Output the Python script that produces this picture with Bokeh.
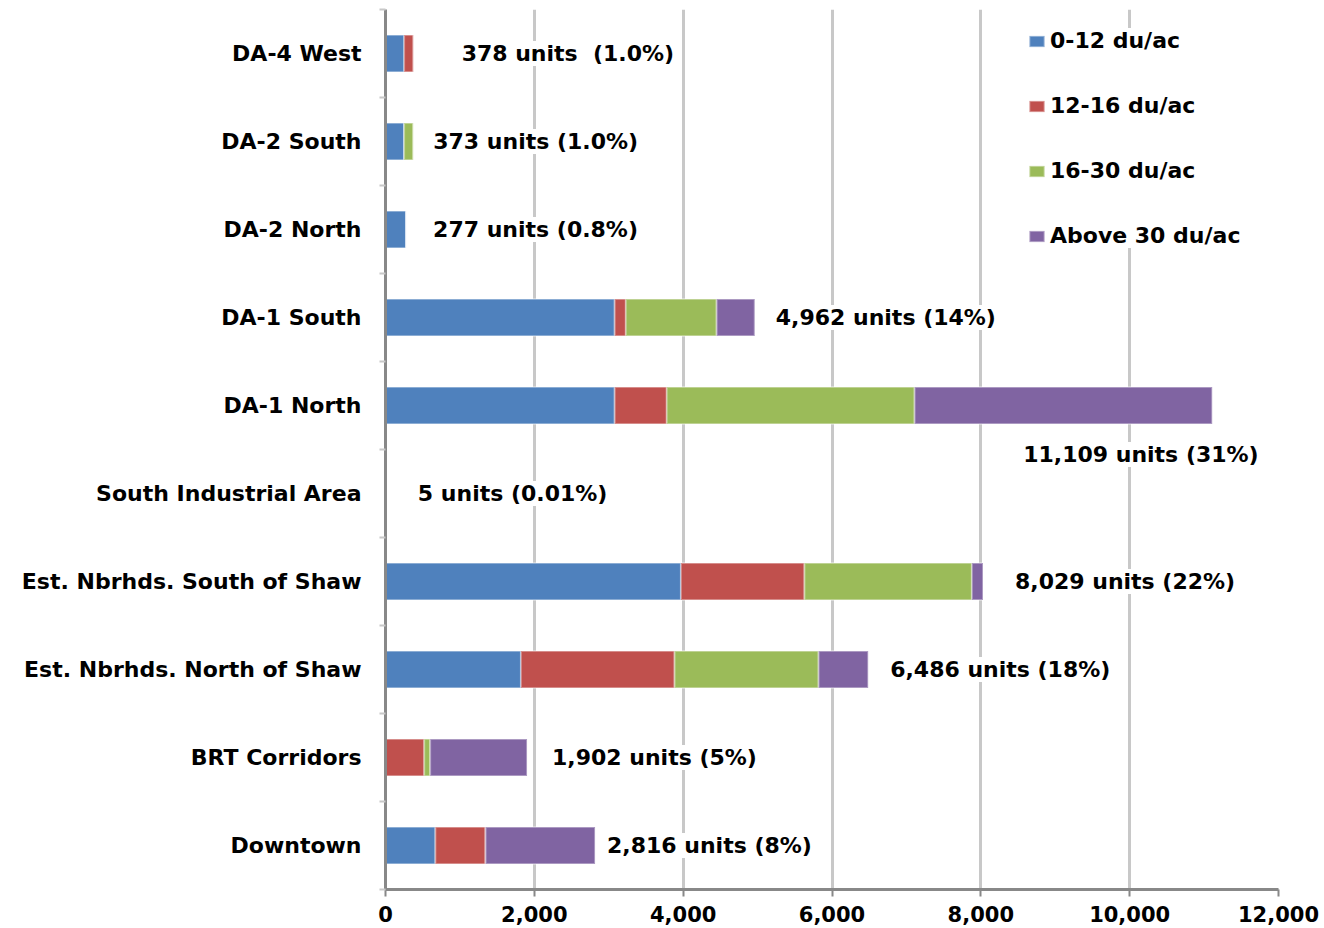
from bokeh.plotting import figure
from bokeh.models import (ColumnDataSource, FixedTicker, LabelSet, Range1d,
                          NumeralTickFormatter, Legend)
from bokeh.core.properties import value
from bokeh.embed import file_html
from bokeh.resources import INLINE

# ---- data (top to bottom as in the chart) ----
categories = ["DA-4 West", "DA-2 South", "DA-2 North", "DA-1 South", "DA-1 North",
              "South Industrial Area", "Est. Nbrhds. South of Shaw",
              "Est. Nbrhds. North of Shaw", "BRT Corridors", "Downtown"]
du_0_12 = [250, 250, 277, 3080, 3080, 5, 3970, 1820, 0, 670]
du_12_16 = [128, 0, 0, 150, 700, 0, 1660, 2065, 520, 675]
du_16_30 = [0, 123, 0, 1220, 3330, 0, 2250, 1935, 80, 0]
du_30_up = [0, 0, 0, 512, 3999, 0, 149, 666, 1302, 1471]
totals = [378, 373, 277, 4962, 11109, 5, 8029, 6486, 1902, 2816]
labels = ["378 units\u00a0 (1.0%)", "373 units (1.0%)", "277 units (0.8%)",
          "4,962 units (14%)", "11,109 units (31%)", "5 units (0.01%)",
          "8,029 units (22%)", "6,486 units (18%)", "1,902 units (5%)",
          "2,816 units (8%)"]
series_names = ["0-12 du/ac", "12-16 du/ac", "16-30 du/ac", "Above 30 du/ac"]
x_ticks = [0, 2000, 4000, 6000, 8000, 10000, 12000]

colors = ["#4F81BD", "#C0504D", "#9BBB59", "#8064A2"]
# label placement styling (pixel offsets from bar end)
lab_dx = [48, 20, 27, 21, -189, 32, 32, 22, 25, 12]
lab_dy = [0, 0, 0, 0, -49, 0, 0, 0, 0, 0]

n = len(categories)
ypos = [n - 1 - i for i in range(n)]

src = ColumnDataSource(dict(y=ypos, a=du_0_12, b=du_12_16, c=du_16_30, d=du_30_up,
                            total=totals, label=labels, dx=lab_dx, dy=lab_dy))

FONT = "DejaVu Sans"
FS = "22px"

p = figure(width=1320, height=928, output_backend="svg", toolbar_location=None,
           x_range=Range1d(0, 12000), y_range=Range1d(-0.5, n - 0.5),
           min_border_left=385, min_border_right=42, min_border_top=9,
           min_border_bottom=39)
p.outline_line_color = None
p.background_fill_color = "white"

renderers = p.hbar_stack(["a", "b", "c", "d"], y="y", height=0.42, color=colors,
                         line_color="white", line_alpha=0.35, line_width=2,
                         source=src)

# grid
p.ygrid.grid_line_color = None
p.xgrid.ticker = FixedTicker(ticks=x_ticks)
p.xgrid.grid_line_color = "#c8c8c8"
p.xgrid.grid_line_width = 3

# x axis
p.xaxis.ticker = FixedTicker(ticks=x_ticks)
p.xaxis.formatter = NumeralTickFormatter(format="0,0")
p.xaxis.axis_line_color = "#888888"
p.xaxis.axis_line_width = 3
p.xaxis.major_tick_line_color = "#888888"
p.xaxis.major_tick_line_width = 2
p.xaxis.major_tick_out = 7
p.xaxis.major_tick_in = 0
p.xaxis.minor_tick_line_color = None
p.xaxis.major_label_text_font = FONT
p.xaxis.major_label_text_font_style = "bold"
p.xaxis.major_label_text_font_size = "21px"
p.xaxis.major_label_text_color = "black"
p.xaxis.major_label_standoff = 9

# y axis
p.yaxis.ticker = FixedTicker(ticks=ypos, minor_ticks=[k - 0.5 for k in range(n + 1)])
p.yaxis.major_label_overrides = {ypos[i]: categories[i] for i in range(n)}
p.yaxis.axis_line_color = "#888888"
p.yaxis.axis_line_width = 3
p.yaxis.major_tick_line_color = None
p.yaxis.minor_tick_line_color = "#c8c8c8"
p.yaxis.minor_tick_line_width = 2
p.yaxis.minor_tick_out = 6
p.yaxis.minor_tick_in = 0
p.yaxis.major_label_text_font = FONT
p.yaxis.major_label_text_font_style = "bold"
p.yaxis.major_label_text_font_size = FS
p.yaxis.major_label_text_color = "black"
p.yaxis.major_label_standoff = 18

# value labels
lbl = LabelSet(x="total", y="y", text="label", x_offset="dx", y_offset="dy",
               source=src, text_font=value(FONT), text_font_style="bold",
               text_font_size=FS, text_color="black", text_baseline="middle",
               text_align="left", background_fill_color="white")
p.add_layout(lbl)

# legend
legend = Legend(items=[(series_names[i], [renderers[i]]) for i in range(4)],
                location=(642, 641), orientation="vertical")
legend.label_text_font = FONT
legend.label_text_font_style = "bold"
legend.label_text_font_size = FS
legend.label_text_color = "black"
legend.glyph_width = 19
legend.glyph_height = 14
legend.label_height = 20
legend.label_standoff = 4
legend.spacing = 40
legend.padding = 20
legend.margin = 0
legend.border_line_color = None
legend.background_fill_color = "white"
legend.background_fill_alpha = 1.0
p.add_layout(legend)

open("out.html", "w").write(file_html(p, INLINE))
